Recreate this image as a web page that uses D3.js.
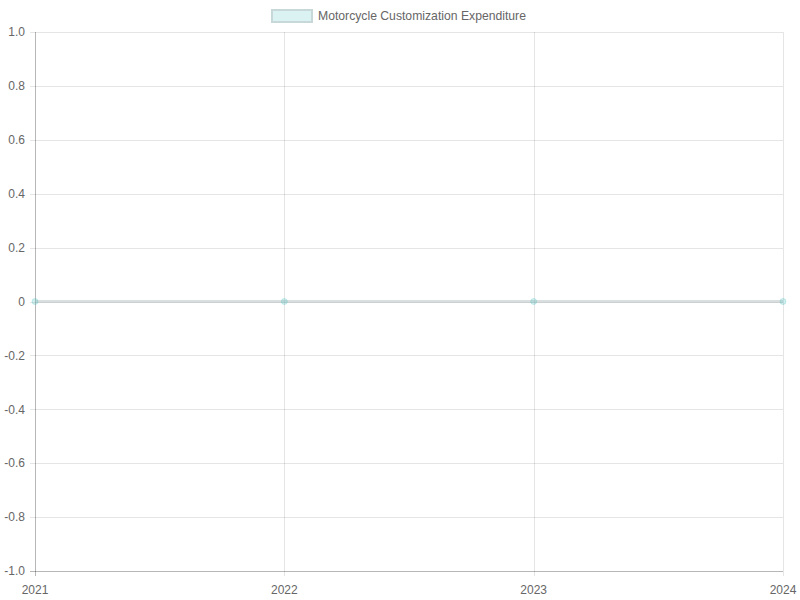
<!doctype html>
<html>
<head>
<meta charset="utf-8">
<script src="https://d3js.org/d3.v7.min.js"></script>
<style>
  body { margin: 0; background: #fff; }
  text { font-family: "Liberation Sans", Arial, sans-serif; }
</style>
</head>
<body>
<script>
  // data
  var years = ["2021", "2022", "2023", "2024"];
  var expenditure = [0, 0, 0, 0];
  var yTicks = [1.0, 0.8, 0.6, 0.4, 0.2, 0, -0.2, -0.4, -0.6, -0.8, -1.0];
  var seriesName = "Motorcycle Customization Expenditure";

  var width = 800, height = 600;
  var plot = { left: 35, right: 783, top: 32, bottom: 571 };

  var svg = d3.select("body").append("svg")
      .attr("width", width).attr("height", height);

  var x = d3.scalePoint().domain(years).range([plot.left, plot.right]);
  var y = d3.scaleLinear().domain([-1, 1]).range([plot.bottom, plot.top]);

  // grid
  var grid = svg.append("g").attr("stroke", "rgba(0,0,0,0.1)").attr("stroke-width", 1);
  grid.selectAll(".gy").data(yTicks).enter().append("line")
      .attr("x1", plot.left - 5).attr("x2", plot.right)
      .attr("y1", function(d){ return Math.round(y(d)) + 0.5; })
      .attr("y2", function(d){ return Math.round(y(d)) + 0.5; });
  grid.selectAll(".gx").data(years).enter().append("line")
      .attr("y1", plot.top).attr("y2", plot.bottom + 5)
      .attr("x1", function(d){ return Math.round(x(d)) + 0.5; })
      .attr("x2", function(d){ return Math.round(x(d)) + 0.5; });

  // axis borders
  svg.append("line").attr("x1", plot.left + 0.5).attr("x2", plot.left + 0.5)
      .attr("y1", plot.top).attr("y2", plot.bottom + 5)
      .attr("stroke", "rgba(0,0,0,0.2)");
  svg.append("line").attr("x1", plot.left - 5).attr("x2", plot.right)
      .attr("y1", plot.bottom + 0.5).attr("y2", plot.bottom + 0.5)
      .attr("stroke", "rgba(0,0,0,0.2)");

  // tick labels
  svg.selectAll(".yl").data(yTicks).enter().append("text")
      .attr("x", plot.left - 10).attr("y", function(d){ return y(d); })
      .attr("dy", "0.35em").attr("text-anchor", "end")
      .attr("font-size", 12).attr("fill", "#666")
      .text(function(d){ return d === 0 ? "0" : d.toFixed(1); });
  svg.selectAll(".xl").data(years).enter().append("text")
      .attr("x", function(d){ return x(d); }).attr("y", plot.bottom + 23)
      .attr("text-anchor", "middle")
      .attr("font-size", 12).attr("fill", "#666")
      .text(function(d){ return d; });

  // line
  var line = d3.line()
      .x(function(d, i){ return x(years[i]); })
      .y(function(d){ return y(d); });
  svg.append("path").datum(expenditure)
      .attr("d", line)
      .attr("fill", "none")
      .attr("stroke", "rgba(170,185,185,0.45)")
      .attr("stroke-width", 3);

  svg.selectAll(".pt").data(expenditure).enter().append("circle")
      .attr("cx", function(d, i){ return x(years[i]); })
      .attr("cy", function(d){ return y(d); })
      .attr("r", 3)
      .attr("fill", "rgba(75,192,192,0.25)")
      .attr("stroke", "rgba(75,192,192,0.25)")
      .attr("stroke-width", 1);

  // legend
  var legend = svg.append("g");
  legend.append("rect").attr("x", 272).attr("y", 10).attr("width", 40).attr("height", 12)
      .attr("fill", "rgba(75,192,192,0.2)")
      .attr("stroke", "rgba(200,215,215,1)").attr("stroke-width", 2);
  legend.append("text").attr("x", 318).attr("y", 16).attr("dy", "0.35em")
      .attr("font-size", 12.2).attr("fill", "#666")
      .text(seriesName);
</script>
</body>
</html>
